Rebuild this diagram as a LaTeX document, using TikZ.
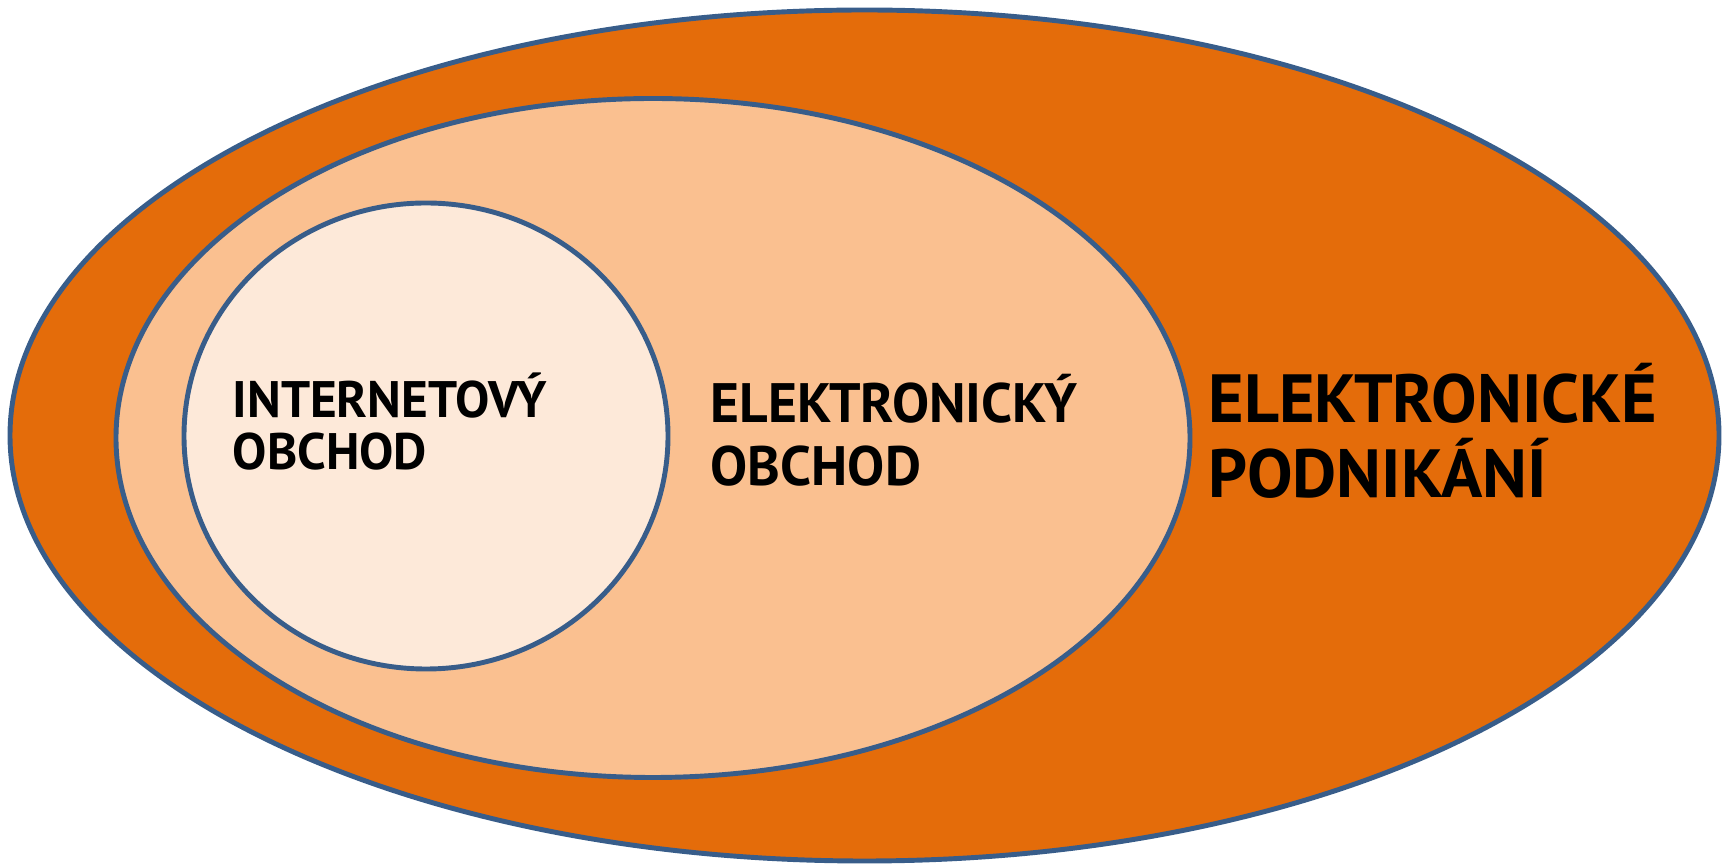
\documentclass[tikz,border=0pt]{standalone}
\usepackage{fontspec}
\setmainfont{PT Sans}
\usetikzlibrary{shapes.geometric}
\definecolor{rim}{HTML}{385D8A}
\definecolor{darkorange}{HTML}{E46C0A}
\definecolor{midorange}{HTML}{FAC090}
\definecolor{paleorange}{HTML}{FDE9D9}
\begin{document}
\begin{tikzpicture}[set/.style={ellipse,draw=rim,line width=1.4pt,inner sep=0pt,outer sep=0pt},
    set label/.style={anchor=base west,align=left,inner sep=0pt,font=\bfseries}]
    \useasboundingbox (0,0) rectangle (17.29,8.66);
    \node[set,fill=darkorange,minimum width=17.09cm,minimum height=8.51cm] at (8.645,4.305) (outer) {};
    \node[set,fill=midorange,minimum width=10.74cm,minimum height=6.79cm] at (6.53,4.28) (middle) {};
    \node[set,fill=paleorange,minimum width=4.84cm,minimum height=4.66cm] at (4.26,4.30) (inner) {};

    \node[set label,font=\bfseries\fontsize{14.6}{14.8}\selectfont] at (2.32,3.96) (internet) {INTERNETOVÝ\\OBCHOD};
    \node[set label,font=\bfseries\fontsize{15.8}{18.2}\selectfont] at (7.10,3.80) (ecommerce) {ELEKTRONICKÝ\\OBCHOD};
    \node[set label,font=\bfseries\fontsize{19.4}{21.6}\selectfont] at (12.08,3.68) (ebusiness) {ELEKTRONICKÉ\\PODNIKÁNÍ};
\end{tikzpicture}
\end{document}
